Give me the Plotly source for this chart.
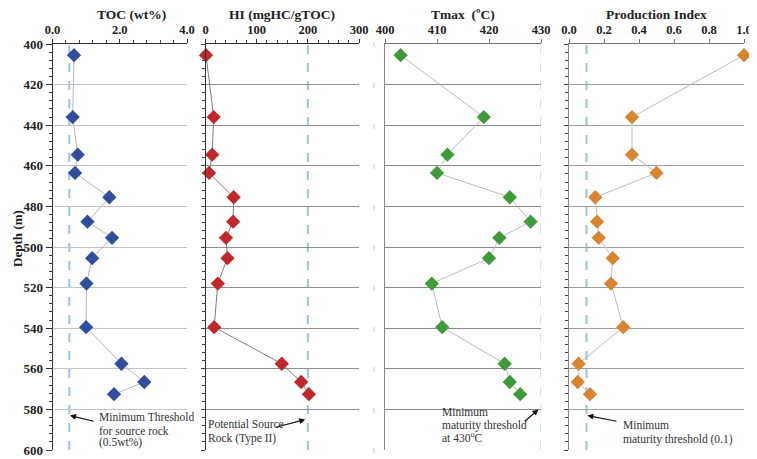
import plotly.graph_objects as go

# ---- data ----
depth = [405.5, 436, 454.5, 463.5, 475.5, 487.5, 495.5, 505.5, 518, 539.5, 557.5, 566.5, 572.5]
toc = [0.64, 0.6, 0.75, 0.67, 1.69, 1.04, 1.77, 1.18, 1.01, 1.0, 2.05, 2.73, 1.83]
hi = [1, 16, 13, 7, 55, 54, 40, 43, 24, 17, 149, 187, 202]
tmax = [403, 419, 412, 410, 424, 428, 422, 420, 409, 411, 423, 424, 426]
pi = [1.0, 0.36, 0.36, 0.50, 0.15, 0.16, 0.17, 0.25, 0.24, 0.31, 0.055, 0.05, 0.12]

thr_toc, thr_hi, thr_tmax, thr_pi = 0.5, 200, 430, 0.1

titles = ["TOC (wt%)", "HI (mgHC/gTOC)", "Tmax  (ºC)", "Production Index"]
depth_ticks = [400, 420, 440, 460, 480, 500, 520, 540, 560, 580, 600]

FONT = "Liberation Serif"
OFF = 8  # page body margin
W, H = 757 - OFF, 459 - OFF
ML, MR, MT, MB = 52 - OFF, 13, 44 - OFF, 9
PW = W - ML - MR

def px(a):
    return (a - OFF - ML) / PW

doms = [[px(52.5), px(187)], [px(205.5), px(359)], [px(385), px(541)], [px(569), px(744)]]

fig = go.Figure()

series = [
    (toc, "#2f4f9c", "#b8b8b8"),
    (hi, "#c0282b", "#7f7f7f"),
    (tmax, "#3f9a3a", "#bdbdbd"),
    (pi, "#d9852f", "#bdbdbd"),
]
for i, (vals, mc, lc) in enumerate(series):
    sfx = "" if i == 0 else str(i + 1)
    fig.add_trace(go.Scatter(
        x=vals, y=depth, mode="lines+markers",
        line=dict(color=lc, width=1),
        marker=dict(symbol="diamond", size=11, color=mc),
        xaxis="x" + sfx, yaxis="y" + sfx, showlegend=False, cliponaxis=False))

# threshold lines
thr = [(thr_toc, "x", "#9cc3e0", "dash", 2), (thr_hi, "x2", "#9cc3e0", "dash", 2),
       (thr_tmax, "x3", "#b4c6d4", "dash", 1), (thr_pi, "x4", "#9cc3e0", "dash", 2)]
for v, xr, c, d, w in thr:
    fig.add_shape(type="line", x0=v, x1=v, y0=0, y1=1, xref=xr,
                  yref="y domain" if xr == "x" else "y%s domain" % xr[1:],
                  line=dict(color=c, dash=d, width=w), layer="below")

xranges = [[0, 4], [0, 300], [400, 430], [0, 1]]
xticks = [dict(tickvals=[0, 2, 4], ticktext=["0.0", "2.0", "4.0"], minor=dict(dtick=0.4, ticks="outside", ticklen=3, tickcolor="#444")),
          dict(tickvals=[0, 100, 200, 300], minor=dict(dtick=20, ticks="outside", ticklen=3, tickcolor="#444")),
          dict(tickvals=[400, 410, 420, 430]),
          dict(tickvals=[0, 0.2, 0.4, 0.6, 0.8, 1.0], ticktext=["0.0", "0.2", "0.4", "0.6", "0.8", "1.0"])]
xline = ["#333", "#333", "#777", "#777"]
grid = ["#c4c4c4", "#8f8f8f", "#8a8a8a", "#a0a0a0"]
yline = ["#333", "#333", "#888", "#888"]

layout = dict(width=W, height=H, margin=dict(l=ML, r=MR, t=MT, b=MB, autoexpand=False),
              plot_bgcolor="white", paper_bgcolor="white", showlegend=False)
for i in range(4):
    sfx = "" if i == 0 else str(i + 1)
    xa = dict(domain=doms[i], range=xranges[i], side="top", anchor="y" + sfx, automargin=False,
              showline=True, linecolor=xline[i], linewidth=1, showgrid=False, zeroline=False,
              ticks="outside", ticklen=4, tickcolor=xline[i],
              tickfont=dict(family=FONT, size=12.5, color="#222", weight="bold"),
              tickmode="array")
    xa.update(xticks[i])
    ya = dict(range=[600, 400], anchor="x" + sfx, showline=True, linecolor=yline[i], linewidth=1,
              showgrid=True, gridcolor=grid[i], gridwidth=1, zeroline=False, automargin=False,
              tickmode="array", tickvals=depth_ticks)
    if i == 0:
        ya.update(ticks="outside", ticklen=6, tickcolor="#333",
                  tickfont=dict(family=FONT, size=13, color="#222", weight="bold"),
                  minor=dict(dtick=4, ticks="outside", ticklen=3, tickcolor="#333"))
    elif i == 2:
        ya.update(ticks="", showticklabels=True, ticktext=["|"] * len(depth_ticks),
                  ticklabelstandoff=8,
                  tickfont=dict(family=FONT, size=7, color="#666"), matches="y")
    else:
        ya.update(ticks="outside", ticklen=4, tickcolor="#444", showticklabels=False,
                  minor=dict(dtick=4, ticks="outside", ticklen=3, tickcolor="#444"), matches="y")
    layout["xaxis" + sfx] = xa
    layout["yaxis" + sfx] = ya
fig.update_layout(**layout)

# titles
title_x = [131, 282, 463, 656.5]
for t, xp in zip(titles, title_x):
    fig.add_annotation(text=t, x=px(xp), y=1, xref="paper", yref="paper",
                       yshift=MT + 2, showarrow=False, xanchor="center", yanchor="top",
                       borderpad=0,
                       font=dict(family=FONT, size=13.5, color="#222", weight="bold"))
fig.add_annotation(text="Depth (m)", x=px(18), y=0.52, xref="paper", yref="paper",
                   textangle=-90, showarrow=False, xanchor="center", yanchor="middle",
                   font=dict(family=FONT, size=13, color="#222", weight="bold"))

tfont = dict(family=FONT, size=11.5, color="#333")
notes = [
    (["Minimum Threshold", "for source rock", "(0.5wt%)"], 1.36, [583.5, 590.4, 596.3], "x", "y"),
    (["Potential Source", "Rock (Type II)"], 2.9, [587.4, 594.4], "x2", "y2"),
    (["Minimum", "maturity threshold", "at 430<sup>o</sup>C"], 410.7, [581.5, 587.9, 593.8], "x3", "y3"),
    (["Minimum", "maturity threshold (0.1)"], 0.303, [587.9, 594.8], "x4", "y4"),
]
for lines, xv, ys, xr, yr in notes:
    for t, yv in zip(lines, ys):
        fig.add_annotation(text=t, x=xv, y=yv, xref=xr, yref=yr, showarrow=False,
                           xanchor="left", yanchor="middle", align="left", font=tfont,
                           borderpad=0)

arrows = [
    (0.52, 583, 1.27, 586, "x", "y"),
    (195, 585, 135, 589, "x2", "y2"),
    (429.5, 580, 426.6, 586.5, "x3", "y3"),
    (0.105, 583, 0.28, 586, "x4", "y4"),
]
for hx, hy, tx, ty, xr, yr in arrows:
    fig.add_annotation(text="", x=hx, y=hy, ax=tx, ay=ty, xref=xr, yref=yr, axref=xr, ayref=yr,
                       showarrow=True, arrowhead=2, arrowsize=1, arrowwidth=1.2, arrowcolor="#111")

fig.write_html("out.html")
